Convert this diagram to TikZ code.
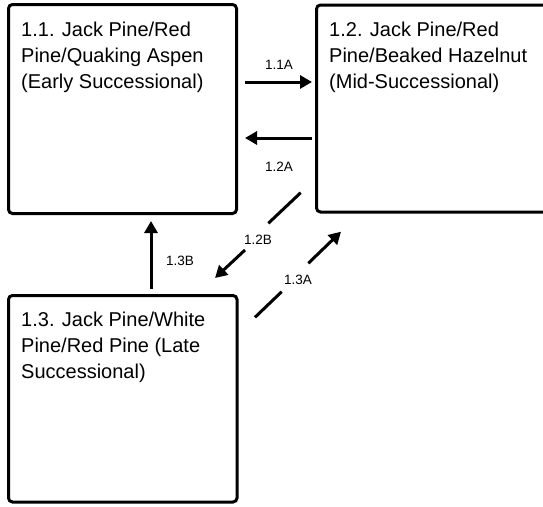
\documentclass[tikz,border=0pt]{standalone}
\usepackage{fontspec}
\setmainfont{Liberation Sans}
\usetikzlibrary{arrows.meta}
\begin{document}
\begin{tikzpicture}[x=1pt,y=-1pt,
  box/.style={draw=black,line width=3pt,rounded corners=4pt,fill=white,inner sep=0pt},
  boxtext/.style={anchor=north west,inner sep=0pt,align=left,font=\fontsize{20}{26}\selectfont},
  conn/.style={line width=3pt,-{Triangle[length=12pt,width=13pt]}},
  plain/.style={line width=3pt},
  lbl/.style={font=\fontsize{13.5}{16}\selectfont,inner sep=0pt}]
\useasboundingbox (0,0) rectangle (543,506);
\clip (0,0) rectangle (543,506);
% boxes
\node[box,minimum width=228pt,minimum height=209pt] (b1) at (122.5,109) {};
\node[box,minimum width=240pt,minimum height=207pt] (b2) at (436.5,108.5) {};
\node[box,minimum width=228.5pt,minimum height=206.5pt] (b3) at (122.75,398.75) {};
% texts
\node[boxtext] (t1) at (21,21.5) {1.1. Jack Pine/Red\\Pine/Quaking Aspen\\(Early Successional)};
\node[boxtext] (t2) at (329,21.5) {1.2. Jack Pine/Red\\Pine/Beaked Hazelnut\\(Mid-Successional)};
\node[boxtext] (t3) at (21,311.5) {1.3. Jack Pine/White\\Pine/Red Pine (Late\\Successional)};
% connector endpoints
\coordinate (a11s) at (245,82);
\coordinate (a11e) at (312,82);
\coordinate (a12s) at (312,138);
\coordinate (a12e) at (245,138);
\coordinate (a13bs) at (151,289);
\coordinate (a13be) at (151,221);
\coordinate (a12bs) at (300.7,192.7);
\coordinate (a12bm) at (268.3,223.3);
\coordinate (a12bn) at (245,250);
\coordinate (a12be) at (215,278);
\coordinate (a13as) at (255,317.3);
\coordinate (a13am) at (281.7,291.7);
\coordinate (a13an) at (308.3,263.3);
\coordinate (a13ae) at (341,231.7);
% arrows
\draw[conn] (a11s) -- (a11e);
\draw[conn] (a12s) -- (a12e);
\draw[conn] (a13bs) -- (a13be);
\draw[plain] (a12bs) -- (a12bm);
\draw[conn] (a12bn) -- (a12be);
\draw[plain] (a13as) -- (a13am);
\draw[conn] (a13an) -- (a13ae);
% labels
\node[lbl] (l11a) at (279,65) {1.1A};
\node[lbl] (l12a) at (279,167) {1.2A};
\node[lbl] (l12b) at (258,240) {1.2B};
\node[lbl] (l13a) at (298,280) {1.3A};
\node[lbl] (l13b) at (180,261) {1.3B};
\end{tikzpicture}
\end{document}
